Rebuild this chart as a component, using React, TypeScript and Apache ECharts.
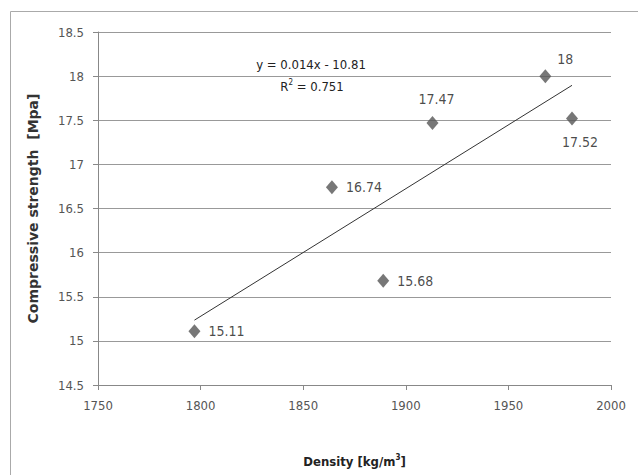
import React, { useEffect, useRef } from "react";
import * as echarts from "echarts";

const densities = [1797, 1864, 1889, 1913, 1968, 1981];
const strengths = [15.11, 16.74, 15.68, 17.47, 18, 17.52];
const labelPlacement = ["right", "right", "right", "top", "topRight", "bottom"];
const xTicks = { min: 1750, max: 2000, interval: 50 };
const yTicks = { min: 14.5, max: 18.5, interval: 0.5 };
const equationText = "y = 0.014x - 10.81";
const r2Text = "0.751";

const NARROW = "'DejaVu Sans Condensed', 'Liberation Sans', sans-serif";

function fit(xs: number[], ys: number[]) {
  const n = xs.length;
  const mx = xs.reduce((a, b) => a + b, 0) / n;
  const my = ys.reduce((a, b) => a + b, 0) / n;
  let sxy = 0, sxx = 0;
  for (let i = 0; i < n; i++) {
    sxy += (xs[i] - mx) * (ys[i] - my);
    sxx += (xs[i] - mx) * (xs[i] - mx);
  }
  const k = sxy / sxx;
  return { k, b: my - k * mx };
}

export default function App() {
  const ref = useRef<HTMLDivElement>(null);
  useEffect(() => {
    if (!ref.current) return;
    const chart = echarts.init(ref.current, null, { renderer: "svg" });
    const { k, b } = fit(densities, strengths);
    const xMin = Math.min(...densities);
    const xMax = Math.max(...densities);
    const labelFont = { fontFamily: NARROW, fontSize: 14, color: "#1a1a1a" };
    const points = densities.map((d, i) => {
      const p = labelPlacement[i];
      let label: any = { show: true, position: "right", distance: 8 };
      if (p === "top") label = { show: true, position: "top", distance: 10, offset: [4, 0] };
      if (p === "bottom") label = { show: true, position: "bottom", distance: 10, offset: [8, 0] };
      if (p === "topRight") label = { show: true, position: "right", distance: 6, offset: [0, -17] };
      return { value: [d, strengths[i]], label };
    });
    chart.setOption({
      animation: false,
      backgroundColor: "#fff",
      grid: { left: 98, right: 27, top: 32, bottom: 90 },
      xAxis: {
        type: "value",
        min: xTicks.min,
        max: xTicks.max,
        interval: xTicks.interval,
        name: "Density [kg/m{sup|3}]",
        nameLocation: "middle",
        nameGap: 68,
        nameTextStyle: {
          fontFamily: NARROW,
          fontWeight: "bold",
          fontSize: 13,
          color: "#222",
          rich: {
            sup: { fontFamily: NARROW, fontWeight: "bold", fontSize: 8, verticalAlign: "top", padding: [0, 0, 8, 0], color: "#222" },
          },
        },
        axisLine: { show: true, lineStyle: { color: "#888", width: 1 } },
        axisTick: { show: true, length: 5, lineStyle: { color: "#888" } },
        axisLabel: { fontFamily: NARROW, fontSize: 13, color: "#555", margin: 14, formatter: (v: number) => String(v) },
        splitLine: { show: false },
      },
      yAxis: {
        type: "value",
        min: yTicks.min,
        max: yTicks.max,
        interval: yTicks.interval,
        name: "Compressive strength  [Mpa]",
        nameLocation: "middle",
        nameGap: 58,
        nameTextStyle: { fontFamily: "DejaVu Sans", fontWeight: "bold", fontSize: 14, color: "#333" },
        axisLine: { show: true, lineStyle: { color: "#888", width: 1 } },
        axisTick: { show: true, length: 5, lineStyle: { color: "#888" } },
        axisLabel: { fontFamily: NARROW, fontSize: 13, color: "#555", margin: 14, formatter: (v: number) => String(v) },
        splitLine: { show: true, lineStyle: { color: "#999", width: 1 } },
      },
      series: [
        {
          type: "line",
          data: [[xMin, k * xMin + b], [xMax, k * xMax + b]],
          symbol: "none",
          lineStyle: { color: "#333", width: 1 },
          z: 2,
        },
        {
          type: "scatter",
          data: points,
          symbol: "diamond",
          symbolSize: [12, 14],
          itemStyle: { color: "#555" },
          label: labelFont,
          z: 3,
        },
      ],
      graphic: [
        {
          type: "rect",
          shape: { x: 10.5, y: 11.5, width: 700, height: 500 },
          style: { fill: "none", stroke: "#aaa", lineWidth: 1 },
          silent: true,
        },
        {
          type: "text",
          x: 311,
          y: 64,
          style: {
            text: equationText,
            fontFamily: NARROW,
            fontSize: 13,
            fill: "#222",
            align: "center",
            verticalAlign: "middle",
          },
        },
        {
          type: "text",
          x: 312,
          y: 86,
          style: {
            text: "R{sup|2} = " + r2Text,
            fontFamily: NARROW,
            fontSize: 13,
            fill: "#222",
            align: "center",
            verticalAlign: "middle",
            rich: {
              sup: { fontFamily: NARROW, fontSize: 8, verticalAlign: "top", padding: [0, 0, 8, 0], fill: "#222" },
            },
          },
        },
      ],
    });
    return () => chart.dispose();
  }, []);
  return (
    <div
      ref={ref}
      style={{ position: "absolute", left: 0, top: 0, width: 638, height: 475, background: "#fff" }}
    />
  );
}
